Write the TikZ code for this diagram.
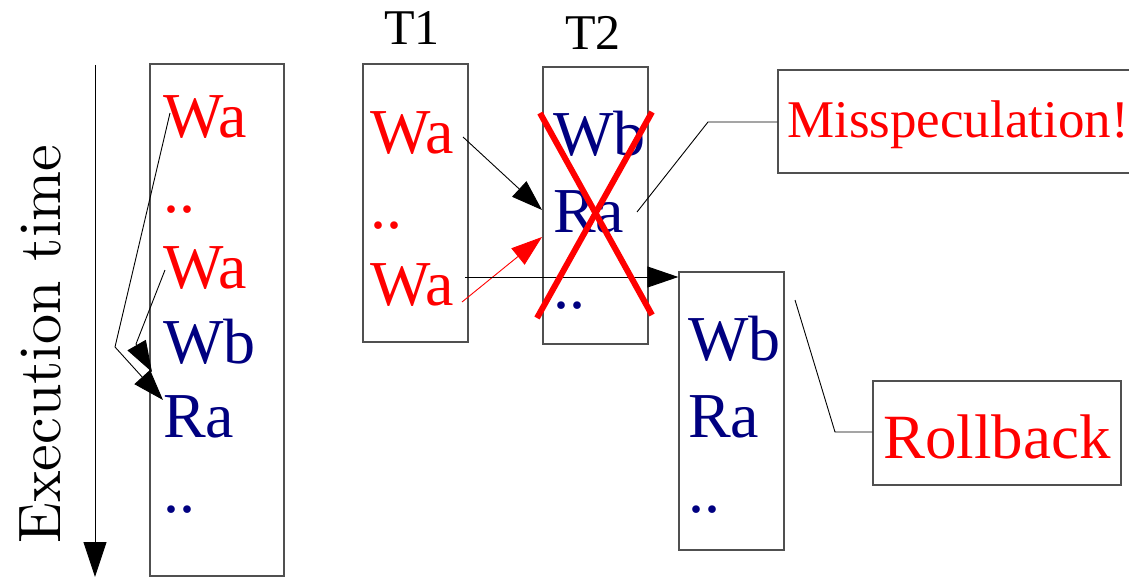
\documentclass[tikz,border=0pt]{standalone}
\usepackage{fontspec}
\setmainfont{Liberation Serif}
\newfontfamily\lmfont{lmroman10-regular}[Extension=.otf]
\usetikzlibrary{arrows.meta}
\definecolor{wrcol}{RGB}{255,0,0}
\definecolor{rdcol}{RGB}{0,0,128}
\definecolor{framecol}{RGB}{80,80,80}

\tikzset{
  op/.style={anchor=base west, inner sep=0pt, font=\fontsize{64}{64}\selectfont},
  wr/.style={op, text=wrcol},
  rd/.style={op, text=rdcol},
  lane/.style={draw=framecol, line width=1.3pt, inner sep=0pt},
  thread/.style={anchor=base, inner sep=0pt, font=\fontsize{50}{50}\selectfont},
  link/.style={line width=0.9pt},
  tip/.style={-{Triangle[length=31pt,width=21pt]}},
  cross/.style={draw=wrcol, line width=6pt},
}

\begin{document}
\begin{tikzpicture}[x=1pt,y=-1pt]
\useasboundingbox (0,0) rectangle (1129,578);
\clip (0,0) rectangle (1129,578);

% time axis
\coordinate (t0) at (95,65);
\coordinate (t1) at (95,577);
\draw[link, -{Triangle[length=35pt,width=23pt]}] (t0) -- (t1);
\node[anchor=base, rotate=90, inner sep=0pt, font=\lmfont\fontsize{60}{60}\selectfont]
  (xlabel) at (60,344) {Execution time};

% sequential order
\node[lane, minimum width=134pt, minimum height=512pt] (seq) at (217,320) {};
\node[wr] (s1) at (163,137) {Wa};
\node[wr] (s2) at (163,212) {..};
\node[wr] (s3) at (163,288) {Wa};
\node[rd] (s4) at (163,363) {Wb};
\node[rd] (s5) at (163,437) {Ra};
\node[rd] (s6) at (163,512) {..};

\coordinate (d1a) at (170,113);
\coordinate (d1b) at (115,347);
\coordinate (d1c) at (163,400);
\draw[link, tip] (d1a) -- (d1b) -- (d1c);
\coordinate (d2a) at (165,270);
\coordinate (d2b) at (136,344);
\coordinate (d2c) at (152,372);
\draw[link, tip] (d2a) -- (d2b) -- (d2c);

% thread T1
\node[thread] (lt1) at (412,45) {T1};
\node[lane, minimum width=105pt, minimum height=278pt] (th1) at (415.5,203) {};
\node[wr] (a1) at (370,153) {Wa};
\node[wr] (a2) at (370,228) {..};
\node[wr] (a3) at (370,305) {Wa};

% thread T2
\node[thread] (lt2) at (593,50) {T2};
\node[lane, minimum width=105pt, minimum height=277pt] (th2) at (595.5,205.5) {};
\node[rd] (b1) at (553,155) {Wb};
\node[rd] (b2) at (553,232) {Ra};
\node[rd] (b3) at (553,308) {..};

% re-executed T2
\node[lane, minimum width=105pt, minimum height=278pt] (th3) at (731.5,411) {};
\node[rd] (c1) at (688,360) {Wb};
\node[rd] (c2) at (688,437) {Ra};
\node[rd] (c3) at (688,512) {..};

% dependences between threads
\coordinate (e1a) at (463,137);
\coordinate (e1b) at (542,210);
\draw[link, tip] (e1a) -- (e1b);
\coordinate (e2a) at (462,302);
\coordinate (e2b) at (542,237);
\draw[link, tip, wrcol] (e2a) -- (e2b);
\coordinate (e3a) at (465,277);
\draw[link, tip] (e3a) -- (th3.north west |- e3a);

% squash mark
\coordinate (x1) at (540,113);
\coordinate (x2) at (652,315);
\coordinate (x3) at (652,112);
\coordinate (x4) at (537,318);
\draw[cross] (x1) -- (x2);
\draw[cross] (x3) -- (x4);

% callouts
\node[lane, minimum width=357pt, minimum height=103pt] (miss) at (956.5,121.5) {};
\node[op, text=wrcol, font=\fontsize{53}{53}\selectfont] (misst) at (787,137) {Misspeculation!};
\coordinate (m1) at (637,212);
\coordinate (m2) at (708,122);
\draw[link] (m1) -- (m2) -- (m2 -| miss.west);

\node[lane, minimum width=248pt, minimum height=104pt] (roll) at (997,433) {};
\node[op, text=wrcol, font=\fontsize{63}{63}\selectfont] (rollt) at (883,458) {Rollback};
\coordinate (r1) at (795,300);
\coordinate (r2) at (835,432);
\draw[link] (r1) -- (r2) -- (r2 -| roll.west);
\end{tikzpicture}
\end{document}
